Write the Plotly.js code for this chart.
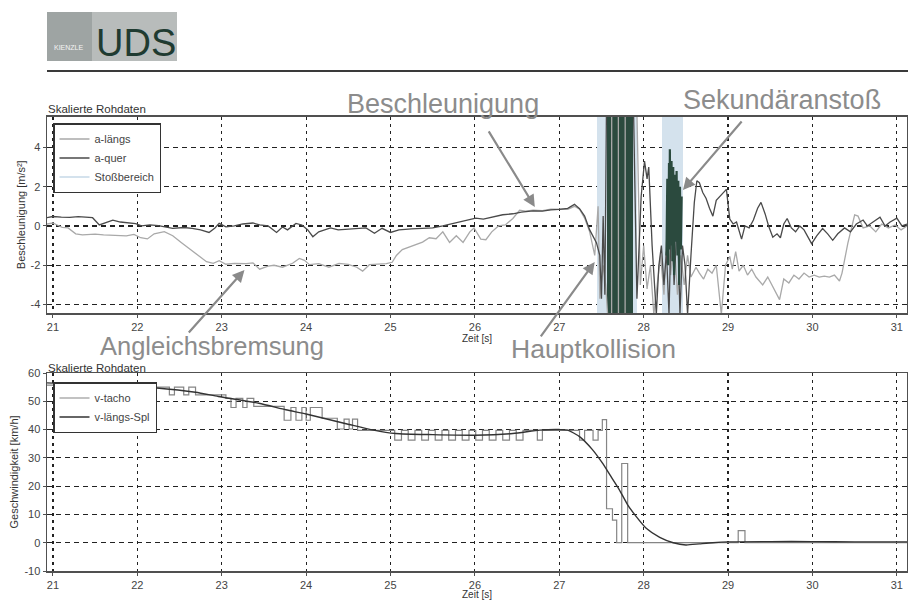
<!DOCTYPE html>
<html>
<head>
<meta charset="utf-8">
<script src="https://cdn.plot.ly/plotly-3.0.1.min.js"></script>
<style>
html,body{margin:0;padding:0;background:#fff;}
#chart{width:908px;height:600px;}
</style>
</head>
<body>
<div id="chart"></div>
<script>
// ---------- Data ----------
const xTicks = [21,22,23,24,25,26,27,28,29,30,31];
const xTickText = ['21','22','23','24','25','26','27','28','29','30','31'];
const yTopTicks = [-4,-2,0,2,4];
const yTopTickText = ['-4','-2','0','2','4'];
const yBotTicks = [-10,0,10,20,30,40,50,60];
const yBotTickText = ['-10','0','10','20','30','40','50','60'];

// a-längs (light gray)
const tLaengs = [20.93,21.00,21.05,21.11,21.18,21.27,21.35,21.50,21.60,21.71,21.87,21.96,22.04,22.12,22.20,22.32,22.42,22.52,22.62,22.72,22.82,22.90,22.97,23.05,23.15,23.29,23.37,23.45,23.55,23.62,23.72,23.84,23.92,23.98,24.04,24.15,24.27,24.39,24.50,24.60,24.67,24.75,24.85,24.95,25.02,25.07,25.14,25.26,25.38,25.46,25.54,25.62,25.70,25.78,25.86,25.94,25.99,26.07,26.13,26.20,26.28,26.36,26.45,26.53,26.60,26.69,26.80,26.90,27.00,27.10,27.18,27.24,27.30,27.36,27.42,27.46,27.48,27.52,27.55,27.58,27.62,27.621,27.70,27.701,27.78,27.781,27.87,27.92,27.96,28.00,28.04,28.08,28.12,28.17,28.20,28.24,28.28,28.32,28.36,28.40,28.44,28.48,28.52,28.56,28.62,28.66,28.71,28.76,28.81,28.86,28.92,28.97,29.02,29.05,29.09,29.13,29.18,29.23,29.28,29.33,29.41,29.47,29.53,29.61,29.66,29.72,29.78,29.84,29.90,29.96,30.02,30.08,30.14,30.20,30.26,30.32,30.35,30.42,30.50,30.54,30.60,30.68,30.75,30.82,30.90,30.98,31.05,31.12];
const aLaengs = [0.10,0.15,0.05,-0.07,-0.10,-0.40,-0.45,-0.42,-0.45,-0.46,-0.50,-0.43,-0.60,-0.66,-0.40,-0.29,-0.50,-0.84,-1.18,-1.52,-1.82,-1.90,-1.77,-1.95,-1.90,-1.92,-1.88,-2.20,-2.05,-2.00,-2.10,-1.90,-1.65,-1.75,-1.97,-1.92,-2.10,-1.90,-1.95,-2.10,-2.30,-1.97,-1.95,-1.92,-1.85,-1.50,-1.20,-1.00,-0.82,-0.60,-0.65,-0.30,-0.84,-0.50,-0.84,-0.30,-0.10,-0.67,-0.70,-0.30,0.00,0.05,0.38,0.80,0.75,0.80,0.78,0.85,0.84,0.85,1.00,0.85,0.40,-0.30,-1.50,1.00,-3.70,-2.00,-3.00,-5.00,-5.00,6.50,6.50,-5.00,-5.00,6.50,6.50,5.80,-3.00,-1.00,-3.20,-2.00,-4.50,-2.50,-1.50,-3.50,0.00,-2.50,-0.50,-3.50,-1.50,-3.00,-1.50,-2.60,-2.10,-2.40,-2.70,-2.20,-2.40,-2.00,-4.50,-2.00,-1.55,-2.20,-1.30,-2.30,-2.00,-2.50,-2.20,-2.60,-3.00,-2.60,-3.10,-3.75,-2.70,-2.90,-2.50,-2.70,-2.40,-2.60,-2.50,-2.60,-2.55,-2.60,-2.50,-2.80,-2.40,-0.86,0.56,0.50,-0.10,0.00,-0.30,0.10,-0.10,0.05,-0.20,0.00];

// a-quer (dark gray)
const tQuer = [20.93,21.00,21.10,21.20,21.30,21.40,21.47,21.55,21.62,21.71,21.80,21.90,21.98,22.05,22.15,22.25,22.42,22.55,22.65,22.75,22.85,22.92,22.97,23.05,23.15,23.25,23.37,23.45,23.55,23.65,23.72,23.78,23.88,23.95,24.02,24.08,24.15,24.22,24.29,24.38,24.50,24.60,24.71,24.81,24.90,25.00,25.10,25.25,25.40,25.50,25.62,25.72,25.82,25.92,26.01,26.10,26.20,26.33,26.45,26.55,26.69,26.80,26.90,27.00,27.10,27.18,27.24,27.30,27.36,27.44,27.48,27.50,27.52,27.54,27.56,27.87,27.88,27.92,27.97,28.01,28.04,28.06,28.10,28.15,28.18,28.21,28.24,28.27,28.30,28.33,28.36,28.40,28.43,28.46,28.49,28.52,28.56,28.60,28.63,28.66,28.70,28.74,28.78,28.82,28.86,28.90,28.98,29.02,29.06,29.10,29.16,29.20,29.25,29.30,29.35,29.39,29.44,29.48,29.53,29.58,29.62,29.66,29.70,29.75,29.80,29.85,29.90,29.99,30.05,30.12,30.18,30.24,30.30,30.38,30.45,30.52,30.60,30.65,30.72,30.80,30.86,30.92,31.00,31.06,31.12];
const aQuer = [0.42,0.48,0.45,0.44,0.47,0.44,0.42,0.05,0.15,0.30,0.20,0.15,0.12,0.00,0.05,0.02,-0.12,-0.08,-0.12,-0.20,-0.33,-0.10,0.13,-0.05,0.00,0.10,0.15,0.05,0.00,-0.33,-0.05,-0.20,0.13,0.05,-0.20,-0.55,-0.30,-0.20,-0.10,-0.20,-0.15,-0.12,-0.10,-0.37,-0.12,-0.33,-0.20,-0.15,-0.12,-0.10,0.00,0.10,0.20,0.30,0.40,0.35,0.45,0.57,0.62,0.70,0.77,0.75,0.82,0.84,0.90,1.10,0.88,0.50,-0.20,-0.85,-1.50,-3.70,0.50,-3.50,6.50,6.50,5.80,-3.70,1.50,3.30,2.40,3.00,-1.00,-4.50,-2.00,-1.00,-3.00,-1.30,-4.50,1.00,-3.00,0.50,-4.50,-1.00,-2.00,-4.50,-1.50,1.20,2.30,2.20,1.70,1.40,0.90,0.50,1.30,1.50,1.86,0.35,0.10,0.20,-0.67,0.00,-0.10,0.30,0.90,1.20,0.60,0.00,-0.57,-0.40,-0.60,0.10,0.38,-0.10,-0.30,0.00,-0.20,-0.90,-0.50,-0.13,-0.40,-0.73,-0.40,-0.10,-0.30,0.10,0.30,0.00,0.20,0.45,0.00,0.20,0.40,0.00,0.10];

// Stoßbereich (impact ranges) and dense core of the main collision
const stossStart = [27.45, 28.22];
const stossEnd   = [27.92, 28.46];
const kernStart  = [27.56];
const kernEnd    = [27.87];
// signal inside the secondary impact (dark green)
const tStossSig = [28.27,28.28,28.29,28.30,28.305,28.31,28.32,28.33,28.34,28.35,28.36,28.37,28.38,28.39,28.40,28.41,28.42,28.43,28.44,28.45];
const vStossSig = [-1.5,2.4,-2.0,3.2,-1.2,3.9,-1.0,3.3,-1.8,3.0,-2.5,2.6,-0.8,2.8,-1.5,2.3,-3.0,2.0,-1.2,1.5];

// v-tacho (step signal)
const tTacho = [20.93,22.22,22.38,22.44,22.55,22.61,22.69,23.05,23.11,23.17,23.25,23.30,23.38,23.74,23.82,23.88,23.95,24.00,24.05,24.19,24.37,24.45,24.51,24.55,24.61,25.05,25.13,25.21,25.29,25.37,25.45,25.53,25.61,25.69,25.77,25.85,25.93,26.01,26.09,26.17,26.25,26.33,26.41,26.49,26.57,26.74,26.80,27.24,27.30,27.40,27.46,27.51,27.56,27.63,27.68,27.74,27.81,29.12,29.20,31.12];
const vTacho = [55.7,55.0,52.3,55.0,52.3,55.0,52.3,51.0,47.8,51.0,47.8,51.0,48.2,43.3,47.8,43.3,47.8,43.3,47.8,44.0,40.2,43.7,40.2,43.7,39.7,36.3,39.7,36.3,39.7,36.3,39.7,36.3,39.7,36.3,39.7,36.3,39.7,36.3,39.7,36.3,39.7,36.3,39.7,36.3,39.7,36.3,39.7,36.3,39.7,36.3,39.7,43.5,12.0,8.0,0.0,28.0,0.0,4.3,0.0,0.0];

// v-längs-Spl (smooth)
const tSpl = [20.93,21.50,22.00,22.20,22.69,22.96,23.44,23.76,24.00,24.51,24.80,25.06,25.50,26.00,26.45,26.77,27.00,27.10,27.24,27.39,27.51,27.61,27.71,27.81,27.91,28.03,28.19,28.35,28.50,28.66,28.82,29.00,29.50,30.00,30.50,31.12];
const vSpl = [56.5,55.8,55.2,54.8,53.2,51.7,49.3,47.0,45.5,41.8,39.8,38.6,38.2,38.0,38.6,39.8,40.0,39.8,37.5,33.0,28.2,23.5,18.8,13.4,9.3,5.1,1.9,0.0,-0.8,-0.4,0.0,0.3,0.4,0.4,0.3,0.3];

// ---------- Layout constants ----------
const W = 908, H = 600, ML = 47, MR = 1;
const PW = W - ML - MR;
const px2x = p => (p - ML) / PW;
const py2y = p => 1 - p / H;
const xRange = [20.93, 31.12];
const yTopRange = [-4.43, 5.57];
const yBotRange = [-10, 60];
const FONT = 'Liberation Sans, Arial, Helvetica, sans-serif';

const centers = (s, e) => s.map((v, i) => (v + e[i]) / 2);
const widths = (s, e) => s.map((v, i) => e[i] - v);

const traces = [
  { type: 'bar', x: centers(stossStart, stossEnd), width: widths(stossStart, stossEnd),
    y: stossStart.map(() => yTopRange[1] - yTopRange[0]), base: yTopRange[0],
    marker: { color: '#d4e2ed', line: { width: 0 } }, showlegend: false, hoverinfo: 'skip',
    xaxis: 'x', yaxis: 'y' },
  { type: 'bar', x: centers(kernStart, kernEnd), width: widths(kernStart, kernEnd),
    y: kernStart.map(() => yTopRange[1] - yTopRange[0]), base: yTopRange[0],
    marker: { color: '#2b4a3e', line: { width: 0 } }, showlegend: false, hoverinfo: 'skip',
    xaxis: 'x', yaxis: 'y' },
  { type: 'scatter', mode: 'lines', name: 'a-längs', x: tLaengs, y: aLaengs,
    line: { color: '#a9a9a9', width: 1.3 }, xaxis: 'x', yaxis: 'y', legend: 'legend' },
  { type: 'scatter', mode: 'lines', name: 'a-quer', x: tQuer, y: aQuer,
    line: { color: '#4a4a4a', width: 1.3 }, xaxis: 'x', yaxis: 'y', legend: 'legend' },
  { type: 'scatter', mode: 'lines', name: 'Stoßbereich', x: [null], y: [null],
    line: { color: '#d4e2ed', width: 2 }, xaxis: 'x', yaxis: 'y', legend: 'legend' },
  { type: 'scatter', mode: 'lines', x: tStossSig, y: vStossSig, showlegend: false,
    line: { color: '#2b4a3e', width: 2.2 }, xaxis: 'x', yaxis: 'y', hoverinfo: 'skip' },
  { type: 'scatter', mode: 'lines', name: 'v-tacho', x: tTacho, y: vTacho,
    line: { color: '#858585', width: 1.2, shape: 'hv' }, xaxis: 'x2', yaxis: 'y2', legend: 'legend2' },
  { type: 'scatter', mode: 'lines', name: 'v-längs-Spl', x: tSpl, y: vSpl,
    line: { color: '#333333', width: 1.4, shape: 'spline', smoothing: 0.6 }, xaxis: 'x2', yaxis: 'y2', legend: 'legend2' }
];

const xBase = {
  range: xRange, tickvals: xTicks, ticktext: xTickText,
  showgrid: true, gridcolor: '#222', gridwidth: 1.2, griddash: '3px,4px',
  zeroline: false, showline: true, mirror: true, linecolor: '#505050', linewidth: 1.5,
  ticks: 'outside', ticklen: 3, tickcolor: '#505050', tickfont: { size: 11, color: '#444' },
  automargin: false, fixedrange: true,
  title: { text: 'Zeit [s]', font: { size: 10, color: '#333' }, standoff: 2 }
};
const yBase = {
  showgrid: true, gridcolor: '#222', gridwidth: 1.2, griddash: '5px,4px',
  zeroline: false, showline: true, mirror: true, linecolor: '#505050', linewidth: 1.5,
  ticks: 'outside', ticklen: 3, tickcolor: '#505050', tickfont: { size: 11, color: '#444' },
  automargin: false, fixedrange: true
};

const arrowStyle = { showarrow: true, arrowhead: 2, arrowsize: 1.1, arrowwidth: 2.2,
  arrowcolor: '#8a8a8a', text: '', standoff: 0, xref: 'x', yref: 'y' };
const bigText = (txt, cx, cy, sz) => ({ text: txt, xref: 'paper', yref: 'paper', x: px2x(cx), y: py2y(cy),
  xanchor: 'center', yanchor: 'middle', showarrow: false,
  font: { family: FONT, size: sz, color: '#8c8c8c' } });

const layout = {
  width: W, height: H,
  margin: { l: ML, r: MR, t: 0, b: 0, pad: 0 },
  paper_bgcolor: '#ffffff', plot_bgcolor: '#ffffff',
  font: { family: FONT, color: '#333' },
  barmode: 'overlay', bargap: 0,
  showlegend: true,
  xaxis: Object.assign({}, xBase, { domain: [0, 1], anchor: 'y' }),
  xaxis2: Object.assign({}, xBase, { domain: [0, 1], anchor: 'y2' }),
  yaxis: Object.assign({}, yBase, { domain: [py2y(313), py2y(116.5)], range: yTopRange,
    tickvals: yTopTicks, ticktext: yTopTickText, anchor: 'x',
    title: { text: 'Beschleunigung [m/s²]', font: { size: 11, color: '#333' }, standoff: 2 } }),
  yaxis2: Object.assign({}, yBase, { domain: [py2y(571), py2y(373)], range: yBotRange,
    tickvals: yBotTicks, ticktext: yBotTickText, anchor: 'x2',
    title: { text: 'Geschwindigkeit [km/h]', font: { size: 11, color: '#333' }, standoff: 3 } }),
  legend: { x: px2x(53), y: py2y(123), xanchor: 'left', yanchor: 'top',
    bgcolor: '#ffffff', bordercolor: '#333', borderwidth: 1.5,
    font: { size: 11, color: '#444' }, tracegroupgap: 0, itemwidth: 30 },
  legend2: { x: px2x(53), y: py2y(382), xanchor: 'left', yanchor: 'top',
    bgcolor: '#ffffff', bordercolor: '#333', borderwidth: 1.5,
    font: { size: 11, color: '#444' }, tracegroupgap: 0, itemwidth: 30 },
  shapes: [
    { type: 'rect', xref: 'paper', yref: 'paper', x0: px2x(47), x1: px2x(177), y0: py2y(61), y1: py2y(12),
      fillcolor: '#b8bcbb', line: { width: 0 } },
    { type: 'rect', xref: 'paper', yref: 'paper', x0: px2x(47), x1: px2x(92), y0: py2y(61), y1: py2y(12),
      fillcolor: '#9ea4a3', line: { width: 0 } },
    { type: 'line', xref: 'paper', yref: 'paper', x0: px2x(47), x1: px2x(908), y0: py2y(71), y1: py2y(71),
      line: { color: '#3a3a3a', width: 2 } }
  ],
  annotations: [
    { text: 'KIENZLE', xref: 'paper', yref: 'paper', x: px2x(69), y: py2y(47), xanchor: 'center', yanchor: 'middle',
      showarrow: false, font: { family: FONT, size: 7, color: '#f4f4f4' } },
    { text: 'UDS', xref: 'paper', yref: 'paper', x: px2x(94), y: py2y(43), xanchor: 'left', yanchor: 'middle',
      showarrow: false, font: { family: FONT, size: 38, color: '#1f3b31' } },
    { text: 'Skalierte Rohdaten', xref: 'paper', yref: 'paper', x: px2x(46), y: py2y(109), xanchor: 'left', yanchor: 'middle',
      showarrow: false, font: { family: FONT, size: 11.5, color: '#333' } },
    { text: 'Skalierte Rohdaten', xref: 'paper', yref: 'paper', x: px2x(46), y: py2y(368), xanchor: 'left', yanchor: 'middle',
      showarrow: false, font: { family: FONT, size: 11.5, color: '#333' } },
    bigText('Beschleunigung', 443, 104, 27),
    bigText('Sekundäranstoß', 782, 100, 27),
    bigText('Angleichsbremsung', 212, 346, 25.5),
    bigText('Hauptkollision', 593, 349, 26.5),
    Object.assign({}, arrowStyle, { x: 26.71, y: 0.97, ax: -47, ay: -77 }),
    Object.assign({}, arrowStyle, { x: 28.465, y: 1.83, ax: 60, ay: -70 }),
    Object.assign({}, arrowStyle, { x: 27.42, y: -1.83, ax: -55, ay: 76 }),
    Object.assign({}, arrowStyle, { x: 23.27, y: -2.24, ax: -57, ay: 64 })
  ]
};

Plotly.newPlot('chart', traces, layout, { displayModeBar: false, staticPlot: true });
</script>
</body>
</html>
